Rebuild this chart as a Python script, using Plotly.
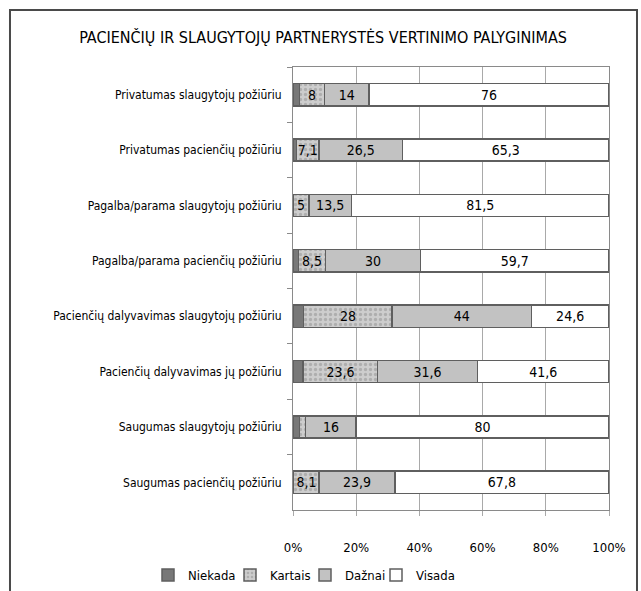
import plotly.graph_objects as go

categories = [
    "Privatumas slaugytojų požiūriu",
    "Privatumas pacienčių požiūriu",
    "Pagalba/parama slaugytojų požiūriu",
    "Pagalba/parama pacienčių požiūriu",
    "Pacienčių dalyvavimas slaugytojų požiūriu",
    "Pacienčių dalyvavimas jų požiūriu",
    "Saugumas slaugytojų požiūriu",
    "Saugumas pacienčių požiūriu",
]
niekada = [2, 1.1, 0, 1.8, 3.4, 3.2, 2, 0.2]
kartais = [8, 7.1, 5, 8.5, 28, 23.6, 2, 8.1]
daznai = [14, 26.5, 13.5, 30, 44, 31.6, 16, 23.9]
visada = [76, 65.3, 81.5, 59.7, 24.6, 41.6, 80, 67.8]
x_ticks = [0, 20, 40, 60, 80, 100]
x_tick_labels = ["0%", "20%", "40%", "60%", "80%", "100%"]

FONT = "DejaVu Sans Condensed, Liberation Sans Narrow, sans-serif"
W, H = 641, 591


def labels(vals, show=True):
    if not show:
        return ["" for _ in vals]
    return [("%g" % v).replace(".", ",") if v >= 3 else "" for v in vals]


series = [
    ("Niekada", niekada, "#787878", None, False, "legend", 148),
    ("Kartais", kartais, "#cdcdcd", dict(shape=".", fgcolor="#8f8f8f", size=5, solidity=0.35), True, "legend2", 230),
    ("Dažnai", daznai, "#c2c2c2", None, True, "legend3", 305),
    ("Visada", visada, "#ffffff", None, True, "legend4", 376),
]

fig = go.Figure()
legends = {}
for name, vals, color, pattern, show, leg, lx in series:
    marker = dict(color=color, line=dict(color="#5f5f5f", width=1.5))
    if pattern:
        marker["pattern"] = pattern
    fig.add_trace(go.Bar(
        y=categories, x=vals, name=name, orientation="h",
        marker=marker, legend=leg,
        text=labels(vals, show), textposition="inside", insidetextanchor="middle",
        textangle=0, constraintext="none",
        textfont=dict(family=FONT, size=14, color="#000000"),
        hoverinfo="x+y+name",
    ))
    legends[leg] = dict(orientation="h", xref="container", yref="container",
                        x=lx / W, xanchor="left", y=1 - 575 / H, yanchor="middle",
                        font=dict(family=FONT, size=13, color="#000000"),
                        itemwidth=30, bgcolor="rgba(0,0,0,0)")

# outer frame
fig.add_shape(type="path", xref="paper", yref="paper",
              path="M -0.8956,-0.2 L -0.8956,1.1287 L 1.0886,1.1287 L 1.0886,-0.2",
              line=dict(color="#4a4a4a", width=2))

fig.update_layout(
    barmode="stack",
    bargap=0.6,
    width=W, height=H,
    margin=dict(l=293, r=32, t=67, b=81),
    paper_bgcolor="white", plot_bgcolor="white",
    font=dict(family=FONT, size=13, color="#000000"),
    title=dict(text="PACIENČIŲ IR SLAUGYTOJŲ PARTNERYSTĖS VERTINIMO PALYGINIMAS",
               x=0.504, xanchor="center", y=1 - 37 / H, yanchor="middle",
               font=dict(family=FONT, size=16, color="#000000")),
    showlegend=True,
    **legends,
)
fig.update_xaxes(range=[0, 100], tickvals=x_ticks, ticktext=x_tick_labels,
                 showgrid=True, gridcolor="#a9a9a9", gridwidth=1,
                 showline=True, linecolor="#8a8a8a", mirror=True,
                 ticks="outside", ticklen=5, tickcolor="#a9a9a9",
                 ticklabelstandoff=20, zeroline=False, automargin=False,
                 tickfont=dict(family=FONT, size=13))
fig.update_yaxes(autorange="reversed", showline=True, linecolor="#8a8a8a", mirror=True,
                 ticks="outside", ticklen=5, tickcolor="#8a8a8a", tickson="boundaries",
                 ticklabelstandoff=8, showgrid=False, automargin=False,
                 tickfont=dict(family=FONT, size=12))

fig.write_html("out.html")
